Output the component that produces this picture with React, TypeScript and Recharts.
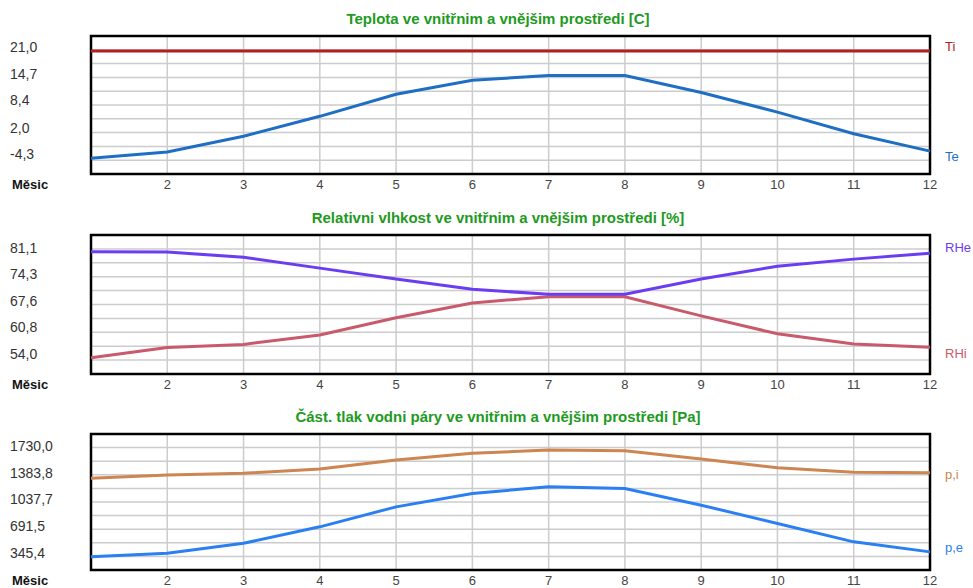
import React from "react"
import { LineChart, Line, XAxis, YAxis, CartesianGrid, ReferenceArea } from "recharts"

const FONT = '"Liberation Sans", Arial, sans-serif'

const months = [1, 2, 3, 4, 5, 6, 7, 8, 9, 10, 11, 12]

// teplota [C]
const tempInside = [21.0, 21.0, 21.0, 21.0, 21.0, 21.0, 21.0, 21.0, 21.0, 21.0, 21.0, 21.0]
const tempOutside = [-4.3, -2.8, 0.9, 5.6, 10.8, 14.1, 15.2, 15.2, 11.2, 6.6, 1.5, -2.6]
const tempTicks = [-4.3, 2.0, 8.4, 14.7, 21.0]

// relativni vlhkost [%]
const rhOutside = [81.1, 81.0, 79.7, 76.9, 74.1, 71.5, 70.2, 70.2, 74.1, 77.4, 79.2, 80.7]
const rhInside = [54.0, 56.6, 57.4, 59.8, 64.2, 68.0, 69.6, 69.6, 64.7, 60.1, 57.5, 56.7]
const rhTicks = [54.0, 60.8, 67.6, 74.3, 81.1]

// castecny tlak vodni pary [Pa]
const pInside = [1363, 1405, 1428, 1483, 1600, 1687, 1730, 1721, 1613, 1500, 1440, 1435]
const pOutside = [345.4, 389, 519, 733, 992, 1166, 1252, 1230, 1014, 777, 538, 408]
const pTicks = [345.4, 691.5, 1037.7, 1383.8, 1730.0]

type Series = { key: string; name: string; color: string; values: number[]; labelDy: number }

type PanelProps = {
  top: number
  plotHeight: number
  title: string
  domain: [number, number]
  ticks: number[]
  series: Series[]
}

const fmt = (v: number) => v.toFixed(1).replace(".", ",")

function endLabel(s: Series) {
  return (p: any) => {
    if (p.index !== months.length - 1) return <g />
    return (
      <text x={p.x + 15} y={p.y + s.labelDy} dy={4} fontSize={13} fontFamily={FONT} fill={s.color}>
        {s.name}
      </text>
    )
  }
}

function Panel({ top, plotHeight, title, domain, ticks, series }: PanelProps) {
  const data = months.map((m, i) => {
    const row: any = { month: m }
    series.forEach(s => (row[s.key] = s.values[i]))
    return row
  })
  const height = 36 + plotHeight + 20

  return (
    <div style={{ position: "absolute", left: 0, top, width: 973, height }}>
      <div
        style={{
          position: "absolute", left: 498, top: 10, transform: "translateX(-50%)",
          whiteSpace: "nowrap", fontFamily: FONT, fontSize: 15, fontWeight: "bold",
          color: "#1e9a1e", lineHeight: "17px",
        }}
      >
        {title}
      </div>
      <div
        style={{
          position: "absolute", left: 12, top: 36 + plotHeight + 3,
          fontFamily: FONT, fontSize: 13, fontWeight: "bold", color: "#111", lineHeight: "15px",
        }}
      >
        Měsic
      </div>
      <LineChart width={973} height={height} data={data} margin={{ top: 36, right: 43, left: 0, bottom: 0 }}>
        {/* 10 equal horizontal divisions, independent of the labelled ticks */}
        <CartesianGrid
          stroke="#cccccc"
          strokeWidth={1.5}
          horizontalCoordinatesGenerator={({ offset }: any) =>
            Array.from({ length: 11 }, (_, i) => offset.top + (offset.height * i) / 10)
          }
        />
        <XAxis
          dataKey="month"
          type="number"
          domain={[1, 12]}
          ticks={months}
          tickFormatter={v => (v === 1 ? "" : String(v))}
          tickLine={false}
          axisLine={false}
          tickSize={4}
          height={20}
          tick={{ fontSize: 13, fill: "#444", fontFamily: FONT }}
        />
        <YAxis
          type="number"
          domain={domain}
          ticks={ticks}
          width={91}
          axisLine={false}
          tickLine={false}
          allowDataOverflow
          tick={(p: any) => (
            <text x={10} y={p.y} dy={1} fontSize={14} fontFamily={FONT} fill="#333">
              {fmt(p.payload.value)}
            </text>
          )}
        />
        <ReferenceArea
          x1={1}
          x2={12}
          y1={domain[0]}
          y2={domain[1]}
          fill="none"
          stroke="#000"
          strokeWidth={2.5}
          ifOverflow="visible"
        />
        {series.map(s => (
          <Line
            key={s.key}
            type="linear"
            dataKey={s.key}
            stroke={s.color}
            strokeWidth={3}
            dot={false}
            activeDot={false}
            isAnimationActive={false}
            label={endLabel(s)}
          />
        ))}
      </LineChart>
    </div>
  )
}

export default function App() {
  return (
    <div style={{ position: "absolute", left: 0, top: 0, width: 973, height: 588, background: "#fff" }}>
      <Panel
        top={0}
        plotHeight={138}
        title="Teplota ve vnitřnim a vnějšim prostředi [C]"
        domain={[-8.0, 24.54]}
        ticks={tempTicks}
        series={[
          { key: "ti", name: "Ti", color: "#b0201e", values: tempInside, labelDy: -4 },
          { key: "te", name: "Te", color: "#1e6ec4", values: tempOutside, labelDy: 6 },
        ]}
      />
      <Panel
        top={199}
        plotHeight={139}
        title="Relativni vlhkost ve vnitřnim a vnějšim prostředi [%]"
        domain={[49.83, 85.37]}
        ticks={rhTicks}
        series={[
          { key: "rhi", name: "RHi", color: "#c85a6c", values: rhInside, labelDy: 7 },
          { key: "rhe", name: "RHe", color: "#6a3cf2", values: rhOutside, labelDy: -5 },
        ]}
      />
      <Panel
        top={398}
        plotHeight={136}
        title="Část. tlak vodni páry ve vnitřnim a vnějšim prostředi [Pa]"
        domain={[172.8, 1937.6]}
        ticks={pTicks}
        series={[
          { key: "pi", name: "p,i", color: "#cd8552", values: pInside, labelDy: 2 },
          { key: "pe", name: "p,e", color: "#2a80f0", values: pOutside, labelDy: -4 },
        ]}
      />
    </div>
  )
}
